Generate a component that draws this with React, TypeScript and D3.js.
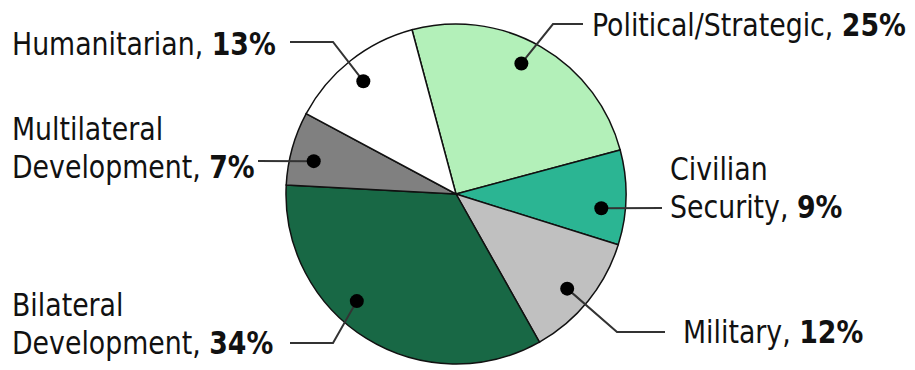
import React from 'react';
import * as d3 from 'd3';

const categories = ['Political/Strategic', 'Civilian Security', 'Military', 'Bilateral Development', 'Multilateral Development', 'Humanitarian'];
const shares = [25, 9, 12, 34, 7, 13];
const colors = ['#b3f0b9', '#2bb593', '#c0c0c0', '#186845', '#808080', '#ffffff'];
// label text split into lines; last line carries the percent
const labelLines = [['Political/Strategic, '], ['Civilian', 'Security, '], ['Military, '], ['Bilateral', 'Development, '], ['Multilateral', 'Development, '], ['Humanitarian, ']];

// layout for labels: text anchor, leader elbow/end, and a small turn (deg) of the dot off the slice middle
const labelLayout = [
  { x: 592, y: 36, elbow: [553, 24], end: [583, 24], nudge: -3.4 },
  { x: 670, y: 180, elbow: null, end: [662, 208], nudge: 4.4 },
  { x: 683, y: 343, elbow: [617, 332], end: [665, 332], nudge: 1.4 },
  { x: 12, y: 316, elbow: [333, 343], end: [290, 343], nudge: 11 },
  { x: 12, y: 140, elbow: null, end: [258, 161], nudge: -2.6 },
  { x: 12, y: 55, elbow: [333, 42], end: [290, 42], nudge: -1 },
];

const W = 915, H = 370;
const cx = 456, cy = 194, R = 170, dotR = 146;
const squeeze = 0.93; // stand-in for the narrower face of the original

export default function App() {
  const pie = d3.pie<number>().sort(null)
    .startAngle(-15 * Math.PI / 180)
    .endAngle(345 * Math.PI / 180);
  const arcs = pie(shares);
  const arc = d3.arc<d3.PieArcDatum<number>>().innerRadius(0).outerRadius(R);
  const font = "'DejaVu Sans Condensed', 'DejaVu Sans', sans-serif";

  return (
    <svg width={W} height={H} style={{ position: 'absolute', left: 0, top: 0, background: '#fff' }}>
      <g transform={`translate(${cx},${cy})`}>
        {arcs.map((a, i) => (
          <path key={i} d={arc(a) || ''} fill={colors[i]} stroke="#111" strokeWidth={1.5} />
        ))}
      </g>
      {arcs.map((a, i) => {
        const L = labelLayout[i];
        const ang = (a.startAngle + a.endAngle) / 2 + L.nudge * Math.PI / 180;
        const [dx, dy] = d3.pointRadial(ang, dotR);
        const px = cx + dx, py = cy + dy;
        const pts: [number, number][] = [[px, py]];
        if (L.elbow) pts.push(L.elbow as [number, number]);
        pts.push(L.end as [number, number]);
        const line = d3.line()(pts) || '';
        const lines = labelLines[i];
        return (
          <g key={i}>
            <path d={line} fill="none" stroke="#333" strokeWidth={2} />
            <circle cx={px} cy={py} r={7} fill="#000" />
            <g transform={`translate(${L.x},0) scale(${squeeze},1)`}>
              <text x={0} y={L.y} fontFamily={font} fontSize={32} fill="#111">
                {lines.map((t, j) => (
                  <tspan key={j} x={0} dy={j === 0 ? 0 : 38}>
                    {t}
                    {j === lines.length - 1 && <tspan fontWeight="bold">{shares[i]}%</tspan>}
                  </tspan>
                ))}
              </text>
            </g>
          </g>
        );
      })}
    </svg>
  );
}
